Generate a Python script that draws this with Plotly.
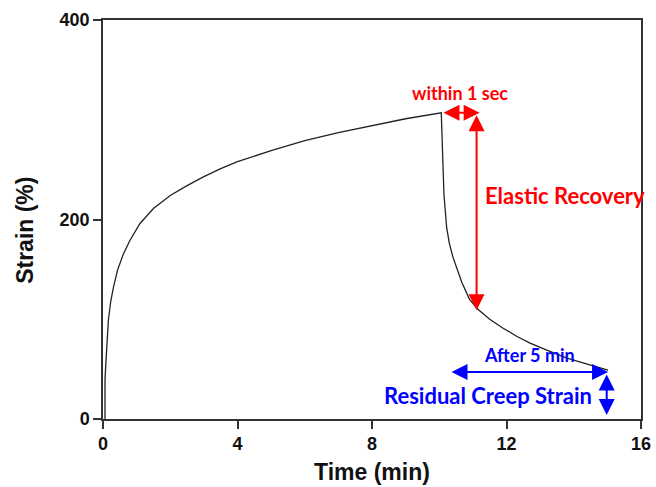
import plotly.graph_objects as go

# Creep (0-10 min) and recovery (10-15 min) curve
time_min = [0.06, 0.06, 0.09, 0.16, 0.23, 0.31, 0.43, 0.60, 0.80, 1.10, 1.50, 2.00, 2.50,
            3.00, 3.50, 4.00, 5.00, 6.00, 7.00, 8.00, 9.00, 10.06,
            10.08, 10.11, 10.14, 10.22, 10.30, 10.41, 10.53, 10.67, 10.90, 11.15, 11.50, 11.90,
            12.30, 12.70, 13.20, 13.80, 14.40, 15.02]
strain_pct = [0, 40, 59, 99, 118, 132, 149, 165, 179, 196, 211, 224, 234,
              243, 251, 258, 269, 279, 287, 294, 301, 307,
              279, 245, 225, 192, 176, 162, 150, 137, 120, 110, 100, 91,
              83, 76, 69, 61, 55, 49]

x_ticks = [0, 4, 8, 12, 16]
y_ticks = [0, 200, 400]

# annotation arrow endpoints (data units)
within_arrow = dict(x0=10.08, x1=11.2, y=307)
elastic_arrow = dict(x=11.11, y0=306, y1=109)
after_arrow = dict(x0=10.32, x1=15.02, y=47)
residual_arrow = dict(x=14.98, y0=46, y1=4)

RED = "#ff0000"
BLUE = "#0000ff"
AXC = "#333333"
TF = "Arial, Liberation Sans, Helvetica, sans-serif"

fig = go.Figure()
fig.add_trace(go.Scatter(x=time_min, y=strain_pct, mode="lines",
                         line=dict(color="#222222", width=1.3),
                         showlegend=False, hoverinfo="skip"))

def darrow(x0, y0, x1, y1, color):
    fig.add_annotation(x=x1, y=y1, ax=x0, ay=y0, xref="x", yref="y", axref="x", ayref="y",
                       text="", showarrow=True, arrowhead=2, startarrowhead=2,
                       arrowside="end+start", arrowsize=1.6, startarrowsize=1.6,
                       arrowwidth=2, arrowcolor=color)

darrow(within_arrow["x0"], within_arrow["y"], within_arrow["x1"], within_arrow["y"], RED)
darrow(elastic_arrow["x"], elastic_arrow["y0"], elastic_arrow["x"], elastic_arrow["y1"], RED)
darrow(after_arrow["x0"], after_arrow["y"], after_arrow["x1"], after_arrow["y"], BLUE)
darrow(residual_arrow["x"], residual_arrow["y0"], residual_arrow["x"], residual_arrow["y1"], BLUE)

AF = "Lato"
fig.add_annotation(x=10.62, y=327, xref="x", yref="y", text="<b>within 1 sec</b>",
                   showarrow=False, font=dict(family=AF, size=18, color=RED))
fig.add_annotation(x=11.3, y=224, xref="x", yref="y", xanchor="left", text="<b>Elastic Recovery</b>",
                   showarrow=False, font=dict(family=AF, size=22, color=RED))
fig.add_annotation(x=12.67, y=64, xref="x", yref="y", text="<b>After 5 min</b>",
                   showarrow=False, font=dict(family=AF, size=18, color=BLUE))
fig.add_annotation(x=14.6, y=24, xref="x", yref="y", xanchor="right", text="<b>Residual Creep Strain</b>",
                   showarrow=False, font=dict(family=AF, size=22, color=BLUE))

# axis titles
fig.add_annotation(x=0.5, y=-0.132, xref="paper", yref="paper", yanchor="middle",
                   text="<b>Time (min)</b>", showarrow=False,
                   font=dict(family=TF, size=23, color="#111111"))
fig.add_annotation(x=-0.145, y=0.474, xref="paper", yref="paper", xanchor="center", yanchor="middle",
                   text="<b>Strain (%)</b>", showarrow=False, textangle=-90,
                   font=dict(family=TF, size=23, color="#111111"))

tickfont = dict(size=18, family=TF, color="#111111", weight="bold")
fig.update_layout(
    width=656, height=487,
    margin=dict(l=103, r=15, t=20, b=68),
    plot_bgcolor="white", paper_bgcolor="white",
    font=dict(family=TF, color="#111111"),
    xaxis=dict(range=[0, 16], tickvals=x_ticks, ticks="outside", ticklen=8, tickwidth=1.5,
               tickcolor=AXC, showline=True, linecolor=AXC, linewidth=1.5, mirror=True,
               showgrid=False, zeroline=False, automargin=False, tickfont=tickfont),
    yaxis=dict(range=[0, 400], tickvals=y_ticks, ticks="outside", ticklen=8, tickwidth=1.5,
               tickcolor=AXC, showline=True, linecolor=AXC, linewidth=1.5, mirror=True,
               showgrid=False, zeroline=False, automargin=False, tickfont=tickfont),
)

fig.write_html("out.html")
